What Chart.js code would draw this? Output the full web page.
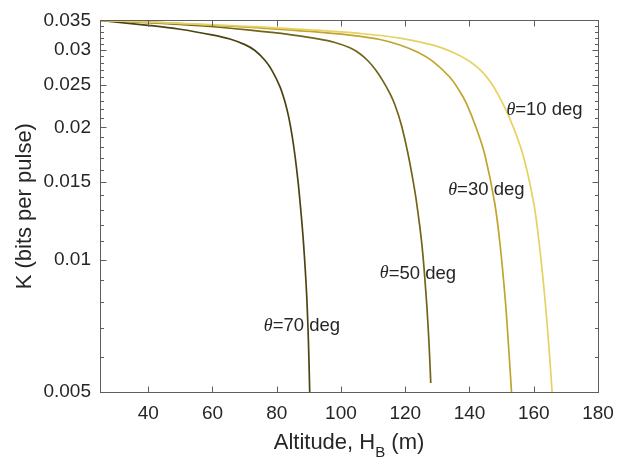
<!DOCTYPE html>
<html>
<head>
<meta charset="utf-8">
<script src="https://cdn.jsdelivr.net/npm/chart.js@4.4.1/dist/chart.umd.min.js"></script>
<style>
    html, body { margin: 0; padding: 0; background: #fff; }
    #wrap { width: 631px; height: 461px; }
</style>
</head>
<body>
<div id="wrap"><canvas id="chart" width="631" height="461"></canvas></div>
<script>
// Altitude (m) and key rate K for each elevation angle
const alt70 = [25, 39.93, 49.89, 59.84, 65.44, 70.11, 73.22, 76.33, 78.51, 81.0, 82.56, 83.74, 84.76, 85.73, 86.66, 87.59, 88.34, 89.28, 89.87, 90.27];
const k70 = [0.035, 0.03411, 0.03342, 0.03245, 0.03175, 0.03083, 0.0299, 0.0284, 0.02695, 0.02475, 0.02286, 0.02109, 0.01919, 0.01714, 0.0150, 0.01273, 0.01091, 0.00844, 0.00653, 0.005];

const alt50 = [25, 39.93, 56.11, 71.67, 84.11, 92.42, 98.11, 102.78, 105.89, 108.38, 110.87, 113.14, 115.22, 116.84, 118.8, 120.73, 122.16, 123.47, 125.21, 126.58, 127.39, 127.95];
const k50 = [0.035, 0.03459, 0.03403, 0.03325, 0.03249, 0.0318, 0.03118, 0.03032, 0.0294, 0.02833, 0.02696, 0.02544, 0.02387, 0.02245, 0.02024, 0.01759, 0.01552, 0.01358, 0.01079, 0.00813, 0.00648, 0.00524];

const alt30 = [25, 39.93, 59.22, 74.78, 90.33, 102.78, 112.11, 118.33, 123.93, 128.69, 133.89, 137.0, 139.08, 142.13, 144.78, 147.89, 149.63, 151.19, 152.18, 153.08];
const k30 = [0.035, 0.03473, 0.03415, 0.03364, 0.03304, 0.0324, 0.03167, 0.03078, 0.02962, 0.02821, 0.02599, 0.02412, 0.02263, 0.0199, 0.01732, 0.0134, 0.01063, 0.00802, 0.00633, 0.005];

const alt10 = [25, 39.93, 59.22, 74.78, 90.33, 105.89, 118.33, 128.69, 135.44, 140.11, 143.84, 146.64, 149.13, 152.56, 156.6, 160.03, 161.86, 163.57, 164.72, 165.72];
const k10 = [0.035, 0.0347, 0.03423, 0.03382, 0.03332, 0.03269, 0.03191, 0.03074, 0.02947, 0.02822, 0.02679, 0.02527, 0.02357, 0.02093, 0.01737, 0.0134, 0.01063, 0.00802, 0.00633, 0.005];

const xTicks = [40, 60, 80, 100, 120, 140, 160, 180];
const yTicks = [0.005, 0.01, 0.015, 0.02, 0.025, 0.03, 0.035];

// curve annotations, anchored in data units (left edge, vertical middle)
const labelAngles = ['10', '30', '50', '70'];
const labelAlt = [151.5, 133.4, 112.1, 76.0];
const labelK = [0.0219, 0.0144, 0.0093, 0.00705];

const colors = {
    '10': '#e6d163',
    '30': '#c0a52c',
    '50': '#726419',
    '70': '#4b4411'
};

const toPoints = (xs, ys) => xs.map((x, i) => ({ x: x, y: ys[i] }));

const sans = '"Liberation Sans", Arial, sans-serif';
const textColor = '#262626';
const axisColor = '#5e5e5e';

// box, inward ticks (MATLAB style), titles and curve labels
const decor = {
    id: 'decor',
    afterDraw(chart) {
        const { ctx, chartArea: a, scales: { x, y } } = chart;
        ctx.save();
        ctx.strokeStyle = axisColor;
        ctx.lineWidth = 1;
        const L = Math.round(a.left) + 0.5, R = Math.round(a.right) + 0.5;
        const T = Math.round(a.top) + 0.5, B = Math.round(a.bottom) + 0.5;
        ctx.strokeRect(L, T, R - L, B - T);

        ctx.beginPath();
        xTicks.forEach(v => {
            const px = Math.round(x.getPixelForValue(v)) + 0.5;
            ctx.moveTo(px, B); ctx.lineTo(px, B - 6);
            ctx.moveTo(px, T); ctx.lineTo(px, T + 6);
        });
        for (let m = 5; m <= 35; m++) {
            const v = m / 1000;
            const len = (m % 5 === 0) ? 6 : 3.5;
            const py = Math.round(y.getPixelForValue(v)) + 0.5;
            ctx.moveTo(L, py); ctx.lineTo(L + len, py);
            ctx.moveTo(R, py); ctx.lineTo(R - len, py);
        }
        ctx.stroke();

        // x title with subscript
        ctx.fillStyle = textColor;
        ctx.textBaseline = 'alphabetic';
        const part1 = 'Altitude, H', part2 = 'B', part3 = ' (m)';
        ctx.font = '22px ' + sans;
        const w1 = ctx.measureText(part1).width, w3 = ctx.measureText(part3).width;
        ctx.font = '15px ' + sans;
        const w2 = ctx.measureText(part2).width;
        const tx = (a.left + a.right) / 2 - (w1 + w2 + w3) / 2;
        const ty = 449;
        ctx.textAlign = 'left';
        ctx.font = '22px ' + sans;
        ctx.fillText(part1, tx, ty);
        ctx.font = '15px ' + sans;
        ctx.fillText(part2, tx + w1, ty + 8);
        ctx.font = '22px ' + sans;
        ctx.fillText(part3, tx + w1 + w2, ty);

        // y title
        ctx.save();
        ctx.translate(25, (a.top + a.bottom) / 2);
        ctx.rotate(-Math.PI / 2);
        ctx.textAlign = 'center';
        ctx.textBaseline = 'middle';
        ctx.font = '22px ' + sans;
        ctx.fillText('K (bits per pulse)', 0, 0);
        ctx.restore();

        // curve labels
        ctx.textBaseline = 'middle';
        labelAngles.forEach((ang, i) => {
            const lx = x.getPixelForValue(labelAlt[i]);
            const ly = y.getPixelForValue(labelK[i]);
            ctx.font = 'italic 18px "Liberation Serif", serif';
            ctx.fillText('\u03B8', lx, ly);
            const wt = ctx.measureText('\u03B8').width;
            ctx.font = '18.5px ' + sans;
            ctx.fillText('=' + ang + ' deg', lx + wt, ly);
        });
        ctx.restore();
    }
};

const datasets = [
    { label: '10', data: toPoints(alt10, k10) },
    { label: '30', data: toPoints(alt30, k30) },
    { label: '50', data: toPoints(alt50, k50) },
    { label: '70', data: toPoints(alt70, k70) }
].map(d => Object.assign(d, {
    borderColor: colors[d.label],
    borderWidth: 1.7,
    pointRadius: 0,
    fill: false,
    tension: 0.35
}));

new Chart(document.getElementById('chart'), {
    type: 'line',
    data: { datasets: datasets },
    options: {
        responsive: false,
        animation: false,
        layout: { padding: { left: 0, top: 13, right: 33, bottom: 0 } },
        plugins: {
            legend: { display: false },
            tooltip: { enabled: false }
        },
        scales: {
            x: {
                type: 'linear',
                min: 25,
                max: 180,
                grid: { display: false, drawTicks: false },
                border: { display: false },
                afterBuildTicks: s => { s.ticks = xTicks.map(v => ({ value: v })); },
                afterFit: s => { s.height = 69; },
                ticks: {
                    padding: 10,
                    color: textColor,
                    font: { family: sans, size: 19 },
                    maxRotation: 0,
                    callback: v => String(v)
                }
            },
            y: {
                type: 'logarithmic',
                min: 0.005,
                max: 0.035,
                grid: { display: false, drawTicks: false },
                border: { display: false },
                afterBuildTicks: s => { s.ticks = yTicks.map(v => ({ value: v })); },
                afterFit: s => { s.width = 100; },
                ticks: {
                    padding: 9,
                    color: textColor,
                    font: { family: sans, size: 19 },
                    callback: v => String(v)
                }
            }
        }
    },
    plugins: [decor]
});
</script>
</body>
</html>
